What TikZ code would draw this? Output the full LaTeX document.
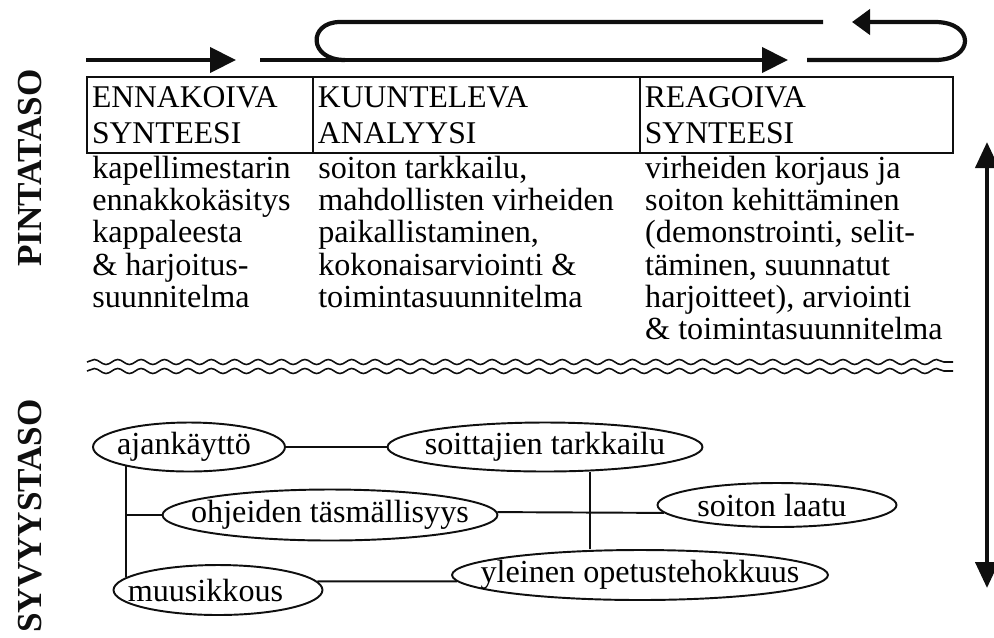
\documentclass[tikz,border=0pt]{standalone}
\usepackage{fontspec}
\setmainfont{Liberation Serif}
\usepackage{tikz}
\usetikzlibrary{arrows.meta, positioning, calc, shapes.geometric, decorations.pathmorphing}
\definecolor{ink}{RGB}{15,15,15}
\newcommand{\headfont}{\fontsize{18}{20.5}\selectfont}
\newcommand{\bodyfont}{\fontsize{18.3}{18.4}\selectfont}
\newcommand{\ovalfont}{\fontsize{18.3}{20}\selectfont}
\newcommand{\sidefont}{\fontsize{20}{22}\selectfont\bfseries}
\newcommand{\ovaltxt}[2][0cm]{\makebox[0pt]{\hspace*{#1}#2}}
\tikzset{
  headbox/.style={rectangle, draw=ink, line width=0.8pt, outer sep=0pt,
    minimum height=1.52cm, align=left, font=\headfont,
    inner xsep=0.1cm, inner ysep=0pt},
  bodytext/.style={rectangle, align=left, font=\bodyfont,
    inner xsep=0.1cm, inner ysep=0.05cm},
  oval/.style={ellipse, draw=ink, line width=1.1pt, inner sep=0pt,
    font=\ovalfont},
  sidelabel/.style={font=\sidefont, color=ink, rotate=90, inner sep=0pt},
  bigarrow/.style={-{Triangle[length=0.52cm, width=0.5cm]}, line width=2.4pt, color=ink},
  dblarrow/.style={{Triangle[length=0.52cm, width=0.46cm]}-{Triangle[length=0.52cm, width=0.46cm]},
    line width=2.4pt, color=ink},
  loopline/.style={line width=2.4pt, color=ink},
  link/.style={line width=1.1pt, color=ink},
  wave/.style={line width=0.9pt, color=ink,
    decorate, decoration={snake, segment length=0.468cm, amplitude=0.05cm}}
}

\begin{document}
\begin{tikzpicture}[x=0.02cm, y=-0.02cm]
  \useasboundingbox (0,0) rectangle (994,637);

  % Side labels
  \node[sidelabel] (pinta) at (30,168) {PINTATASO};
  \node[sidelabel] (syvyys) at (30,516) {SYVYYSTASO};

  % Header boxes
  \node[headbox, anchor=north west, text width=4.32cm] (ennak) at (87,77) {ENNAKOIVA\\SYNTEESI};
  \node[headbox, right=0pt of ennak, text width=6.34cm] (kuunt) {KUUNTELEVA\\ANALYYSI};
  \node[headbox, right=0pt of kuunt, text width=6.06cm] (reag) {REAGOIVA\\SYNTEESI};

  % Column texts
  \node[bodytext, below=0pt of ennak.south west, anchor=north west] (ennaktxt)
    {kapellimestarin\\ennakkokäsitys\\kappaleesta\\\& harjoitus-\\suunnitelma};
  \node[bodytext, below=0pt of kuunt.south west, anchor=north west] (kuunttxt)
    {soiton tarkkailu,\\mahdollisten virheiden\\paikallistaminen,\\kokonaisarviointi \&\\toimintasuunnitelma};
  \node[bodytext, below=0pt of reag.south west, anchor=north west] (reagtxt)
    {virheiden korjaus ja\\soiton kehittäminen\\(demonstrointi, selit-\\täminen, suunnatut\\harjoitteet), arviointi\\\& toimintasuunnitelma};

  % Process arrows on top
  \coordinate (a0) at (86,60);
  \coordinate (a1) at (236,60);
  \coordinate (b0) at (260,60);
  \coordinate (b1) at (788,60);
  \coordinate (c0) at (807,60);
  \coordinate (c1) at (852,22);
  \coordinate (d0) at (823,22);
  \draw[bigarrow] (a0) -- (a1);
  \draw[bigarrow] (b0) -- (b1);
  \draw[bigarrow, -{Triangle[length=0.36cm, width=0.5cm]}]
    (c0) -- (935,60) .. controls (975,60) and (975,22) .. (935,22) -- (c1);
  \draw[loopline] (d0) -- (340,22) .. controls (308,22) and (308,60) .. (345,60);

  % Wavy border between levels
  \draw[wave] (87,362) -- (953,362);
  \draw[wave] (87,371) -- (953,371);

  % Depth arrow
  \coordinate (up) at (987,142);
  \coordinate (down) at (987,588);
  \draw[dblarrow] (up) -- (down);

  % Deep level ovals
  \node[oval, minimum width=3.84cm, minimum height=0.98cm] (ajank) at (189,447) {\ovaltxt[-0.2cm]{ajankäyttö}};
  \node[oval, minimum width=6.3cm, minimum height=0.98cm] (soitt) at (545,447) {\ovaltxt{soittajien tarkkailu}};
  \node[oval, minimum width=6.7cm, minimum height=1.02cm] (ohje) at (330,515) {\ovaltxt{ohjeiden täsmällisyys}};
  \node[oval, minimum width=4.78cm, minimum height=0.88cm] (laatu) at (777,505) {\ovaltxt[-0.2cm]{soiton laatu}};
  \node[oval, minimum width=4.18cm, minimum height=1.0cm] (muus) at (218,590) {\ovaltxt[-0.5cm]{muusikkous}};
  \node[oval, minimum width=7.52cm, minimum height=1.0cm] (yleinen) at (640,575) {\ovaltxt{yleinen opetustehokkuus}};

  % Links
  \draw[link] (ajank.east) -- (soitt.west);
  \draw[link] (ajank.197) -- (ajank.197 |- muus.172);
  \draw[link] (ohje.west -| ajank.197) -- (ohje.west);
  \draw[link] (ohje.1) -- (laatu.184);
  \draw[link] ($(soitt.south)+(45,0)$) -- ($(yleinen.north)+(-50,0)$);
  \draw[link] (muus.5) -- (yleinen.182);
\end{tikzpicture}
\end{document}
